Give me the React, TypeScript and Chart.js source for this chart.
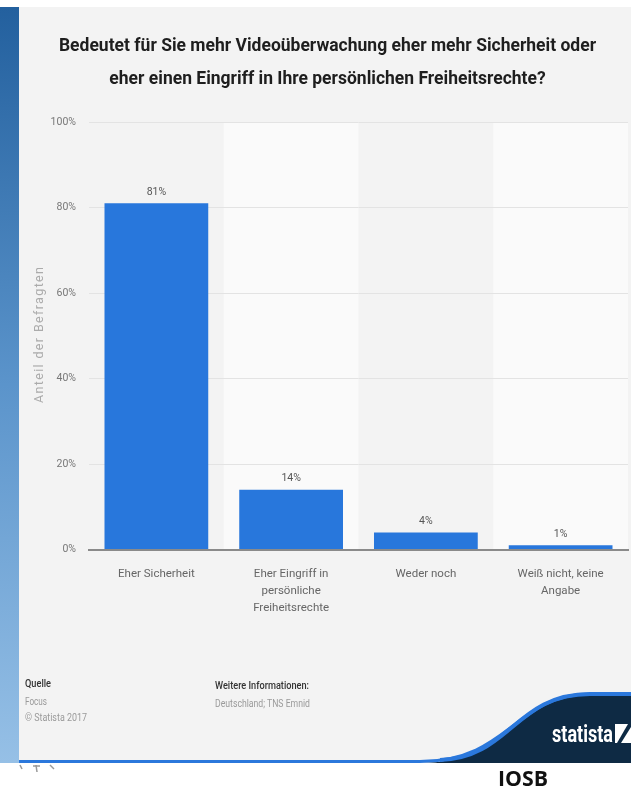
import React, { useEffect, useRef } from "react";
import { Chart, registerables } from "chart.js";

Chart.register(...registerables);

const titleLines = [
  "Bedeutet für Sie mehr Videoüberwachung eher mehr Sicherheit oder",
  "eher einen Eingriff in Ihre persönlichen Freiheitsrechte?",
];
const categories: (string | string[])[] = [
  "Eher Sicherheit",
  ["Eher Eingriff in", "persönliche", "Freiheitsrechte"],
  "Weder noch",
  ["Weiß nicht, keine", "Angabe"],
];
const values = [81, 14, 4, 1];
const yTicks = [0, 20, 40, 60, 80, 100];
const yAxisTitle = "Anteil der Befragten";

const FONT = "Roboto, 'DejaVu Sans', sans-serif";

export default function App() {
  const ref = useRef<HTMLCanvasElement>(null);

  useEffect(() => {
    const canvas = ref.current;
    if (!canvas) return;

    const bandPlugin = {
      id: "bands",
      beforeDraw(chart: any) {
        const { ctx, chartArea, scales } = chart;
        const x = scales.x;
        const half = (chartArea.right - chartArea.left) / categories.length / 2;
        ctx.save();
        ctx.fillStyle = "#fafafa";
        categories.forEach((_, i) => {
          if (i % 2 === 1) {
            const c = x.getPixelForValue(i);
            ctx.fillRect(c - half, chartArea.top, half * 2, chartArea.bottom - chartArea.top);
          }
        });
        ctx.restore();
      },
    };

    const valueLabels = {
      id: "valueLabels",
      afterDatasetsDraw(chart: any) {
        const { ctx } = chart;
        const meta = chart.getDatasetMeta(0);
        ctx.save();
        ctx.font = `10.5px ${FONT}`;
        ctx.fillStyle = "#555555";
        ctx.textAlign = "center";
        ctx.textBaseline = "middle";
        meta.data.forEach((bar: any, i: number) => {
          ctx.fillText(`${values[i]}%`, bar.x, bar.y - 11);
        });
        ctx.restore();
      },
    };

    const chart = new Chart(canvas, {
      type: "bar",
      data: {
        labels: categories,
        datasets: [
          {
            data: values,
            backgroundColor: "#2877dc",
            barPercentage: 0.77,
            categoryPercentage: 1,
          },
        ],
      },
      options: {
        responsive: false,
        animation: false,
        layout: { padding: { left: 8, right: 3, top: 0, bottom: 17.5 } },
        plugins: {
          legend: { display: false },
          tooltip: { enabled: false },
          title: {
            display: true,
            text: titleLines,
            color: "#1e1e1e",
            font: { family: FONT, size: 17.5, weight: "bold", lineHeight: 33 / 17.5 },
            padding: { top: 23.5, bottom: 25.5 },
          },
        },
        scales: {
          x: {
            z: 1,
            grid: { display: false },
            border: { display: true, color: "#8a8a8a", width: 2 },
            ticks: {
              color: "#666666",
              font: { family: FONT, size: 11.5, lineHeight: 17 / 11.5 },
              padding: 8.5,
              maxRotation: 0,
              autoSkip: false,
            },
            afterFit(scale: any) {
              scale.height = 80;
            },
          },
          y: {
            min: 0,
            max: 100,
            afterBuildTicks(scale: any) {
              scale.ticks = yTicks.map((v) => ({ value: v }));
            },
            grid: {
              color: (c: any) => (c.tick && c.tick.value === 0 ? "rgba(0,0,0,0)" : "#e3e3e3"),
              lineWidth: 1,
              drawTicks: false,
            },
            border: { display: false },
            ticks: {
              color: "#777777",
              font: { family: FONT, size: 10.5 },
              padding: 13,
              callback: (v: any) => `${v}%`,
            },
            title: { display: false },
            afterFit(scale: any) {
              scale.width = 62;
            },
          },
        },
      },
      plugins: [bandPlugin, valueLabels],
    } as any);

    return () => chart.destroy();
  }, []);

  return (
    <div
      style={{
        position: "absolute",
        left: 0,
        top: 0,
        width: 631,
        height: 790,
        background: "#ffffff",
        overflow: "hidden",
      }}
    >
      <div
        style={{
          position: "absolute",
          left: 0,
          top: 7,
          width: 19,
          height: 756,
          background: "linear-gradient(to bottom, #23609e 0%, #5b94cb 50%, #96c0e6 100%)",
        }}
      />
      <div
        style={{
          position: "absolute",
          left: 19,
          top: 7,
          width: 612,
          height: 756,
          background: "#f3f3f3",
        }}
      />
      <canvas
        ref={ref}
        width={612}
        height={640}
        style={{ position: "absolute", left: 19, top: 7, width: 612, height: 640 }}
      />
      <svg
        width={631}
        height={790}
        style={{ position: "absolute", left: 0, top: 0 }}
        fontFamily={FONT}
      >
        <text
          transform="translate(42.5,335) rotate(-90)"
          textAnchor="middle"
          fontSize={12.5}
          fill="#ababab"
          textLength={136}
          lengthAdjust="spacing"
        >
          {yAxisTitle}
        </text>

        <text x={25} y={687} fontSize={10} fill="#333333" fontWeight={500} textLength={26} lengthAdjust="spacingAndGlyphs">
          Quelle
        </text>
        <text x={25} y={704.5} fontSize={10} fill="#9a9a9a" textLength={22} lengthAdjust="spacingAndGlyphs">
          Focus
        </text>
        <text x={25} y={721} fontSize={10} fill="#9a9a9a" textLength={62} lengthAdjust="spacingAndGlyphs">
          © Statista 2017
        </text>
        <text x={215} y={689} fontSize={10} fill="#333333" fontWeight={500} textLength={94} lengthAdjust="spacingAndGlyphs">
          Weitere Informationen:
        </text>
        <text x={215} y={707} fontSize={10} fill="#9a9a9a" textLength={95} lengthAdjust="spacingAndGlyphs">
          Deutschland; TNS Emnid
        </text>

        <path d="M 420 763 C 510 763, 515 695, 590 695 L 631 695 L 631 763 Z" fill="#0e2a44" />
        <path
          d="M 19 761.5 L 420 761.5 C 510 761.5, 515 694, 590 694 L 631 694"
          fill="none"
          stroke="#2b78dc"
          strokeWidth={3}
        />
        <path
          d="M 440 760 C 510 758, 515 694, 590 694 L 631 694"
          fill="none"
          stroke="#2b78dc"
          strokeWidth={4}
        />
        <text
          x={552}
          y={742}
          fontSize={23}
          fontWeight={700}
          fill="#ffffff"
          textLength={61}
          lengthAdjust="spacingAndGlyphs"
        >
          statista
        </text>
        <rect x={615} y={724} width={16} height={19} fill="#ffffff" />
        <polygon points="617,743 621,743 631,727 631,724 628,724" fill="#0e2a44" />

        <g stroke="#9a9a9a" strokeWidth={1.5} fill="none">
          <line x1={20} y1={765} x2={22} y2={769} />
          <line x1={36} y1={765} x2={37} y2={772} />
          <line x1={33} y1={766} x2={40} y2={766} />
          <line x1={50} y1={765} x2={54} y2={769} />
        </g>

        <text
          x={498}
          y={786}
          fontSize={21}
          fontWeight={700}
          fill="#111111"
          fontFamily="'Open Sans', sans-serif"
          textLength={50}
          lengthAdjust="spacingAndGlyphs"
        >
          IOSB
        </text>
      </svg>
    </div>
  );
}
